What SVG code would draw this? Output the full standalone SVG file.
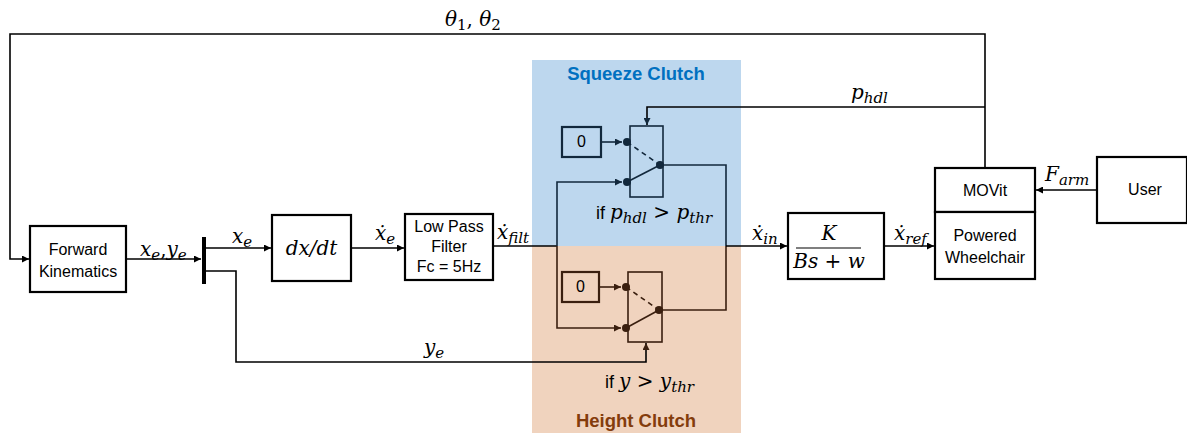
<svg xmlns="http://www.w3.org/2000/svg" width="1187" height="433" viewBox="0 0 1187 433">
<defs>
<style>
.box{fill:#fff;stroke:#000;stroke-width:2.2}
.ln{fill:none;stroke:#000;stroke-width:1.6}
.lb{fill:none;stroke:#12283c;stroke-width:1.6}
.lo{fill:none;stroke:#3a1f0f;stroke-width:1.6}
.t{font-family:"Liberation Sans",Arial,sans-serif;font-size:16px;fill:#000;text-anchor:middle}
.m{font-family:"DejaVu Serif","Liberation Serif",serif;font-style:italic;font-size:20px;fill:#000}
.s{font-size:15px}
.u{font-style:normal}
</style>
<marker id="a" viewBox="0 0 10 10" refX="10" refY="5" markerWidth="7" markerHeight="7" markerUnits="userSpaceOnUse" orient="auto"><path d="M0,0L10,5L0,10z" fill="#000"/></marker>
<marker id="ab" viewBox="0 0 10 10" refX="10" refY="5" markerWidth="7" markerHeight="7" markerUnits="userSpaceOnUse" orient="auto"><path d="M0,0L10,5L0,10z" fill="#12283c"/></marker>
<marker id="ao" viewBox="0 0 10 10" refX="10" refY="5" markerWidth="7" markerHeight="7" markerUnits="userSpaceOnUse" orient="auto"><path d="M0,0L10,5L0,10z" fill="#3a1f0f"/></marker>
</defs>
<rect x="532" y="60" width="209" height="186" fill="#bdd7ee"/>
<rect x="532" y="246" width="209" height="187" fill="#f0d3be"/>
<text x="636" y="80" font-family="Liberation Sans,Arial,sans-serif" font-weight="bold" font-size="18.5" fill="#0070c0" text-anchor="middle">Squeeze Clutch</text>
<text x="636" y="427" font-family="Liberation Sans,Arial,sans-serif" font-weight="bold" font-size="18.5" fill="#843c0c" text-anchor="middle">Height Clutch</text>

<g id="connectors">
<path class="ln" d="M985,168V34H10V259H29" marker-end="url(#a)"/>
<path class="ln" d="M985,107H647V125" marker-end="url(#ab)"/>
<path class="ln" d="M126,259H201" marker-end="url(#a)"/>
<path class="ln" d="M206,248H271" marker-end="url(#a)"/>
<path class="ln" d="M206,271H236V362H646V343" marker-end="url(#ao)"/>
<path class="ln" d="M351,248H404" marker-end="url(#a)"/>
<path class="ln" d="M493,246H557"/>
<path class="lb" d="M557,246V182H622" marker-end="url(#ab)"/>
<path class="lo" d="M557,246V328H621" marker-end="url(#ao)"/>
<path class="lb" d="M601,142H622" marker-end="url(#ab)"/>
<path class="lo" d="M599,287H621" marker-end="url(#ao)"/>
<path class="lb" d="M660,165H726V246"/>
<path class="lo" d="M659,310H726V246"/>
<path class="ln" d="M726,246H787" marker-end="url(#a)"/>
<path class="ln" d="M884,246H934" marker-end="url(#a)"/>
<path class="ln" d="M1097,190H1036" marker-end="url(#a)"/>
</g>

<g id="forward-kinematics"><rect class="box" x="30" y="226" width="96" height="66"/><text class="t" x="78" y="255">Forward</text><text class="t" x="78" y="277">Kinematics</text></g>
<g id="demux"><rect x="202" y="237" width="4" height="47" fill="#000"/></g>
<g id="ddt"><rect class="box" x="272" y="215" width="79" height="66"/><text class="m" x="311.5" y="255" text-anchor="middle" font-size="21">dx/dt</text></g>
<g id="lpf"><rect class="box" x="405" y="214" width="88" height="66"/><text class="t" x="449" y="232" font-size="14">Low Pass</text><text class="t" x="449" y="252" font-size="14">Filter</text><text class="t" x="449" y="272" font-size="14">Fc = 5Hz</text></g>

<g id="squeeze-switch">
<rect x="562" y="127" width="39" height="30" fill="none" stroke="#12283c" stroke-width="2.2"/>
<text class="t" x="581.5" y="147" font-size="13" fill="#12283c">0</text>
<rect x="630" y="126" width="33" height="71" fill="none" stroke="#12283c" stroke-width="1.6"/>
<path d="M627,142L660,165" stroke="#12283c" stroke-width="1.6" stroke-dasharray="5,4"/>
<path d="M627,182L660,165" stroke="#12283c" stroke-width="1.6"/>
<circle cx="627" cy="142" r="4" fill="#12283c"/><circle cx="627" cy="182" r="4" fill="#12283c"/><circle cx="660" cy="165" r="4" fill="#12283c"/>
</g>
<g id="height-switch">
<rect x="562" y="272" width="37" height="30" fill="none" stroke="#3a1f0f" stroke-width="2.2"/>
<text class="t" x="580.5" y="292" font-size="13" fill="#3a1f0f">0</text>
<rect x="628" y="272" width="34" height="70" fill="none" stroke="#3a1f0f" stroke-width="1.6"/>
<path d="M626,287L659,310" stroke="#3a1f0f" stroke-width="1.6" stroke-dasharray="5,4"/>
<path d="M626,328L659,310" stroke="#3a1f0f" stroke-width="1.6"/>
<circle cx="626" cy="287" r="4" fill="#3a1f0f"/><circle cx="626" cy="328" r="4" fill="#3a1f0f"/><circle cx="659" cy="310" r="4" fill="#3a1f0f"/>
</g>
<g id="gain"><rect class="box" x="788" y="213" width="96" height="66"/><text class="m" x="829" y="240" text-anchor="middle" font-size="14">K</text><line x1="796" y1="248" x2="861" y2="248" stroke="#000" stroke-width="1.2"/><text class="m" x="829" y="268" text-anchor="middle" font-size="14">Bs <tspan class="u">+</tspan> w</text></g>
<g id="movit"><rect class="box" x="935" y="168" width="100" height="44"/><text class="t" x="985" y="196">MOVit</text></g>
<g id="wheelchair"><rect class="box" x="935" y="212" width="100" height="67"/><text class="t" x="985" y="241" font-size="16.5">Powered</text><text class="t" x="985" y="263" font-size="16.5">Wheelchair</text></g>
<g id="user"><rect class="box" x="1097" y="157" width="90" height="66"/><text class="t" x="1145" y="195">User</text></g>

<g id="labels">
<text class="m" x="445" y="26">θ<tspan class="s u" dy="4">1</tspan><tspan dy="-4" class="u">, </tspan>θ<tspan class="s u" dy="4">2</tspan></text>
<text class="m" x="140" y="256">x<tspan class="s" dy="4">e</tspan><tspan dy="-4" class="u">,</tspan>y<tspan class="s" dy="4">e</tspan></text>
<text class="m" x="232" y="243">x<tspan class="s" dy="4">e</tspan></text>
<text class="m" x="375" y="240">ẋ<tspan class="s" dy="4">e</tspan></text>
<text class="m" x="497" y="239">ẋ<tspan class="s" dy="4">filt</tspan></text>
<text class="m" x="752" y="240">ẋ<tspan class="s" dy="4">in</tspan></text>
<text class="m" x="894" y="240">ẋ<tspan class="s" dy="4">ref</tspan></text>
<text class="m" x="851" y="99">p<tspan class="s" dy="4">hdl</tspan></text>
<text class="m" x="1045" y="181">F<tspan class="s" dy="4">arm</tspan></text>
<text class="m" x="424" y="354">y<tspan class="s" dy="4">e</tspan></text>
<text class="m" x="596" y="219"><tspan class="u" font-family="Liberation Sans,Arial,sans-serif" font-size="18">if </tspan>p<tspan class="s" dy="4">hdl</tspan><tspan dy="-4" class="u"> &gt; </tspan>p<tspan class="s" dy="4">thr</tspan></text>
<text class="m" x="605" y="388"><tspan class="u" font-family="Liberation Sans,Arial,sans-serif" font-size="18">if </tspan>y<tspan class="u"> &gt; </tspan>y<tspan class="s" dy="4">thr</tspan></text>
</g>
</svg>
